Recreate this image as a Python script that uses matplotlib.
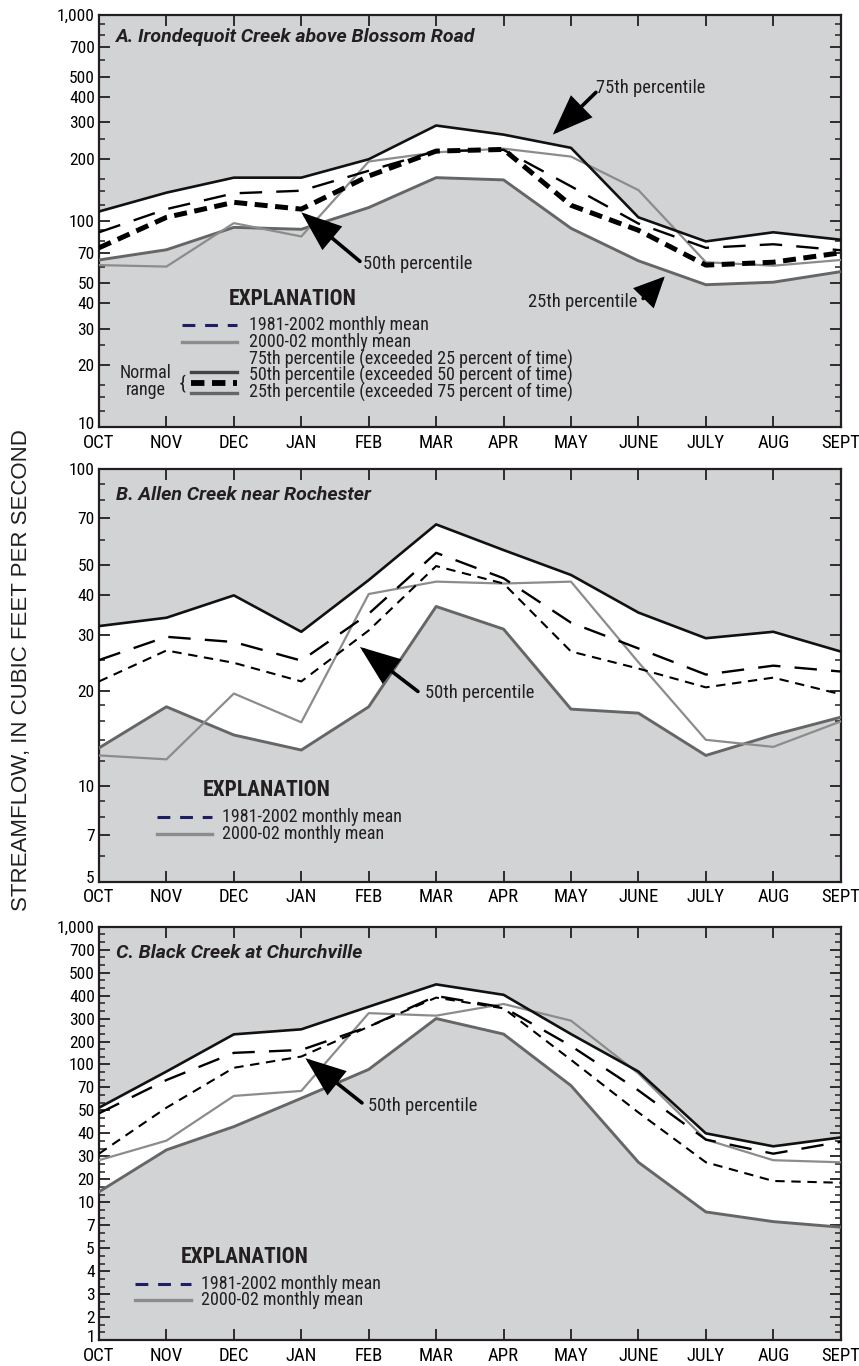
import numpy as np
import matplotlib
matplotlib.use("Agg")
import matplotlib.pyplot as plt
from matplotlib import font_manager as fm
from matplotlib.lines import Line2D
from matplotlib.ticker import FixedLocator, FuncFormatter, NullFormatter
from matplotlib.transforms import ScaledTranslation

# ---------------- fonts ----------------
_avail = {f.name for f in fm.fontManager.ttflist}
COND = next((f for f in ['Roboto Condensed', 'Archivo Narrow', 'IBM Plex Sans Condensed',
                         'Liberation Sans Narrow'] if f in _avail), 'DejaVu Sans')
REG = next((f for f in ['Roboto', 'Liberation Sans'] if f in _avail), 'DejaVu Sans')
LAB = next((f for f in ['Liberation Sans', 'Roboto'] if f in _avail), 'DejaVu Sans')
plt.rcParams['font.family'] = [COND, 'DejaVu Sans']

# ---------------- data ----------------
months = ['OCT', 'NOV', 'DEC', 'JAN', 'FEB', 'MAR', 'APR', 'MAY', 'JUNE', 'JULY', 'AUG', 'SEPT']

# A. Irondequoit Creek above Blossom Road
a_p75 = [111, 137, 162, 162, 199, 290, 262, 226, 104, 79.5, 88, 81]
a_mean = [88, 114, 136, 140, 175, 218, 221, 147, 97, 74, 77, 72]
a_p50 = [74, 104, 123, 114, 165, 218, 222, 119, 90, 61, 63, 70]
a_p25 = [64.6, 72.4, 93, 91, 116, 162, 158, 92, 64, 49, 50.4, 56.7]
a_recent = [61, 60, 97.5, 84, 194, 215, 224, 205, 141, 63, 60.6, 64.6]

# B. Allen Creek near Rochester
b_p75 = [32, 34, 40, 30.7, 44.7, 67, 55.6, 46.4, 35.3, 29.3, 30.7, 26.6]
b_mean = [25, 29.6, 28.5, 24.9, 35, 54.5, 45.3, 32.8, 27.2, 22.5, 24, 23]
b_p50 = [21.4, 26.8, 24.5, 21.4, 31, 49.5, 43.6, 26.6, 23.5, 20.5, 22, 19.5]
b_p25 = [13.2, 17.8, 14.5, 13, 17.8, 36.9, 31.3, 17.5, 17, 12.5, 14.5, 16.5]
b_recent = [12.5, 12.15, 19.6, 15.9, 40.4, 44.2, 43.6, 44.2, 24.6, 14, 13.3, 16]

# C. Black Creek at Churchville
c_p75 = [52, 89.6, 227, 248, 348, 446, 403, 228, 89.6, 40, 34, 38]
c_mean = [48.6, 78.5, 142, 155, 260, 398, 345, 175, 67, 37, 31, 36]
c_p50 = [31, 52, 95, 127, 260, 390, 341, 115, 49, 27, 19, 18]
c_p25 = [13.7, 32.5, 42.7, 59.7, 92.6, 300, 228, 72, 27, 8.6, 7.4, 6.8]
c_recent = [28, 36.5, 61.8, 66.5, 321, 311, 360, 289, 87, 37, 28, 27]

a_ticks = [10, 20, 30, 40, 50, 70, 100, 200, 300, 400, 500, 700, 1000]
b_ticks = [5, 7, 10, 20, 30, 40, 50, 70, 100]
c_ticks = [1, 2, 3, 4, 5, 7, 10, 20, 30, 40, 50, 70, 100, 200, 300, 400, 500, 700, 1000]

titles = ['A. Irondequoit Creek above Blossom Road',
          'B. Allen Creek near Rochester',
          'C. Black Creek at Churchville']
ylabel = 'STREAMFLOW, IN CUBIC FEET PER SECOND'
pct_rows = ['75th percentile (exceeded 25 percent of time)',
            '50th percentile (exceeded 50 percent of time)',
            '25th percentile (exceeded 75 percent of time)']

# ---------------- style ----------------
BG = '#d1d3d4'
C75 = '#111111'
C25 = '#666666'
CREC = '#8c8c8c'
NAVY = '#1e1e64'
FS_ANN = 13.3
FS_LEG = 13.0
FS_EXP = 15.5

W, H = 859, 1366
fig = plt.figure(figsize=(W / 100, H / 100), dpi=100)

def ax_at(left, top, right, bottom):
    return fig.add_axes([left / W, 1 - bottom / H, (right - left) / W, (bottom - top) / H])

axA = ax_at(99, 14.7, 840.7, 427)
axB = ax_at(99, 469.3, 840.7, 881.5)
axC = ax_at(99, 926.7, 840.7, 1340)

x = np.arange(len(months))

def fmt(v, pos=None):
    return f'{v:,.0f}'

def style(ax, ticks, minor):
    ax.set_facecolor(BG)
    ax.set_xlim(0, len(months) - 1)
    ax.set_xticks(x)
    ax.set_xticklabels(months)
    ax.yaxis.set_major_locator(FixedLocator(ticks))
    ax.yaxis.set_major_formatter(FuncFormatter(fmt))
    ax.yaxis.set_minor_locator(FixedLocator(minor))
    ax.yaxis.set_minor_formatter(NullFormatter())
    ax.tick_params(axis='both', which='major', direction='in', length=8, width=1.3,
                   color='#231f20', top=True, right=True)
    ax.tick_params(axis='both', which='minor', direction='in', length=4, width=1.1,
                   color='#231f20', top=True, right=True)
    ax.tick_params(axis='x', labelsize=13.5, pad=5)
    ax.tick_params(axis='y', labelsize=12.5, pad=3)
    for s in ax.spines.values():
        s.set_linewidth(1.6)
        s.set_color('#231f20')
    lab = ax.get_yticklabels()[0]
    lab.set_transform(lab.get_transform() + ScaledTranslation(0, 3 / 72, fig.dpi_scale_trans))

def draw(ax, p75, mean, p50, p25, recent, thick50):
    ax.fill_between(x, p25, p75, color='white', lw=0, zorder=1)
    ax.plot(x, p25, color=C25, lw=2.1, zorder=3)
    ax.plot(x, recent, color=CREC, lw=1.6, zorder=3)
    if thick50:
        ax.plot(x, p50, color='black', lw=3.6, dashes=(2.6, 1.5), zorder=4)
    else:
        ax.plot(x, p50, color='black', lw=1.5, dashes=(4.5, 3.2), zorder=4)
    ax.plot(x, mean, color='black', lw=1.7, dashes=(9.5, 6), zorder=4)
    ax.plot(x, p75, color=C75, lw=1.9, zorder=5)

def minor_log(lo, hi, subs):
    out = []
    for d in range(int(np.floor(np.log10(lo))), int(np.ceil(np.log10(hi))) + 1):
        for s in subs:
            v = s * 10 ** d
            if lo < v < hi:
                out.append(v)
    return out

def arrow(ax, tip, tail, hl=1.1, hw=0.42, lw=2.6):
    ax.annotate('', xy=tip, xytext=tail, zorder=8,
                arrowprops=dict(arrowstyle=f'-|>,head_length={hl},head_width={hw}',
                                lw=lw, color='black', mutation_scale=22,
                                shrinkA=0, shrinkB=0, joinstyle='miter'))

def title(ax, s, yf):
    ax.text(0.023, yf, s, transform=ax.transAxes, ha='left', va='center',
            fontsize=14, fontweight='bold', fontstyle='italic',
            family=[REG, 'DejaVu Sans'], color='#231f20', zorder=9)

def key(ax, x0, x1, y, **kw):
    ax.add_line(Line2D([x0, x1], [y, y], transform=ax.transAxes, zorder=9, **kw))

def ltext(ax, xf, yf, s, **kw):
    ax.text(xf, yf, s, transform=ax.transAxes, ha='left', va='center',
            fontsize=FS_LEG, color='#231f20', zorder=9, **kw)

def expl(ax, xf, yf):
    ax.text(xf, yf, 'EXPLANATION', transform=ax.transAxes, ha='left', va='center',
            fontsize=FS_EXP, fontweight='bold', color='#231f20', zorder=9)

def ann(ax, xv, yv, s, ha='left'):
    ax.text(xv, yv, s, ha=ha, va='center', fontsize=FS_ANN, color='#231f20', zorder=9)

# ---------------- panel A ----------------
axA.set_yscale('log')
axA.set_ylim(10, 1000)
draw(axA, a_p75, a_mean, a_p50, a_p25, a_recent, True)
style(axA, a_ticks, minor_log(10, 1000, [1.2, 1.4, 1.6, 2.5, 6, 8, 9]))
title(axA, titles[0], 0.945)
arrow(axA, (6.73, 262), (7.37, 420))
ann(axA, 7.37, 439, '75th percentile')
arrow(axA, (3.0, 110), (3.87, 63.6))
ann(axA, 3.915, 61.5, '50th percentile')
arrow(axA, (8.39, 53.7), (8.07, 42), hl=0.8, hw=0.38)
ann(axA, 7.98, 40.6, '25th percentile', ha='right')

expl(axA, 0.1753, 0.311)
key(axA, 0.112, 0.186, 0.248, color=NAVY, lw=2.2, dashes=(4.2, 3.2))
ltext(axA, 0.2022, 0.248, '1981-2002 monthly mean')
key(axA, 0.112, 0.186, 0.2067, color=CREC, lw=2.4)
ltext(axA, 0.2022, 0.2067, '2000-02 monthly mean')
ltext(axA, 0.2022, 0.125, '\n'.join(pct_rows), linespacing=0.82)
key(axA, 0.124, 0.1854, 0.1337, color='#444444', lw=2.4)
key(axA, 0.124, 0.1854, 0.107, color='black', lw=4.2, dashes=(2.3, 1.3))
key(axA, 0.124, 0.1854, 0.0827, color=C25, lw=2.4)
axA.text(0.0626, 0.111, 'Normal\nrange', transform=axA.transAxes, ha='center', va='center',
         fontsize=FS_LEG, color='#231f20', zorder=9, linespacing=0.95)
axA.text(0.1128, 0.104, '{', transform=axA.transAxes, ha='center', va='center',
         fontsize=14, color='#231f20', zorder=9)

# ---------------- panel B ----------------
axB.set_yscale('log')
axB.set_ylim(5, 100)
draw(axB, b_p75, b_mean, b_p50, b_p25, b_recent, False)
style(axB, b_ticks, minor_log(5, 100, [1.2, 1.4, 1.6, 1.8, 2.5, 6, 8, 9]))
title(axB, titles[1], 0.938)
arrow(axB, (3.87, 27.5), (4.73, 19.9))
ann(axB, 4.835, 19.7, '50th percentile')
expl(axB, 0.140, 0.222)
key(axB, 0.078, 0.152, 0.157, color=NAVY, lw=2.2, dashes=(4.2, 3.2))
ltext(axB, 0.166, 0.157, '1981-2002 monthly mean')
key(axB, 0.078, 0.152, 0.116, color=CREC, lw=2.4)
ltext(axB, 0.166, 0.116, '2000-02 monthly mean')

# ---------------- panel C (evenly spaced labelled scale) ----------------
_lc = np.log10(c_ticks)
_ic = np.arange(len(c_ticks), dtype=float)

def c_fwd(v):
    v = np.asarray(v, dtype=float)
    return np.interp(np.log10(np.clip(v, 1e-6, None)), _lc, _ic)

def c_inv(i):
    return 10 ** np.interp(np.asarray(i, dtype=float), _ic, _lc)

axC.set_yscale('function', functions=(c_fwd, c_inv))
axC.set_ylim(1, 1000)
draw(axC, c_p75, c_mean, c_p50, c_p25, c_recent, False)
c_minor = [float(c_inv(i + f)) for i in range(len(c_ticks) - 1) for f in (0.33, 0.67)]
style(axC, c_ticks, c_minor)
title(axC, titles[2], 0.937)
arrow(axC, (3.06, 121), (3.9, 55.8))
ann(axC, 3.99, 53.4, '50th percentile')
expl(axC, 0.1106, 0.2016)
key(axC, 0.0485, 0.124, 0.1355, color=NAVY, lw=2.2, dashes=(4.2, 3.2))
ltext(axC, 0.1375, 0.1355, '1981-2002 monthly mean')
key(axC, 0.0485, 0.124, 0.0968, color=CREC, lw=2.4)
ltext(axC, 0.1375, 0.0968, '2000-02 monthly mean')

fig.text(22 / W, 1 - 670 / H, ylabel, rotation=90, ha='center', va='center',
         fontsize=16, family=[LAB, 'DejaVu Sans'], color='#231f20')

fig.savefig('out.png', dpi=100, facecolor='white')
